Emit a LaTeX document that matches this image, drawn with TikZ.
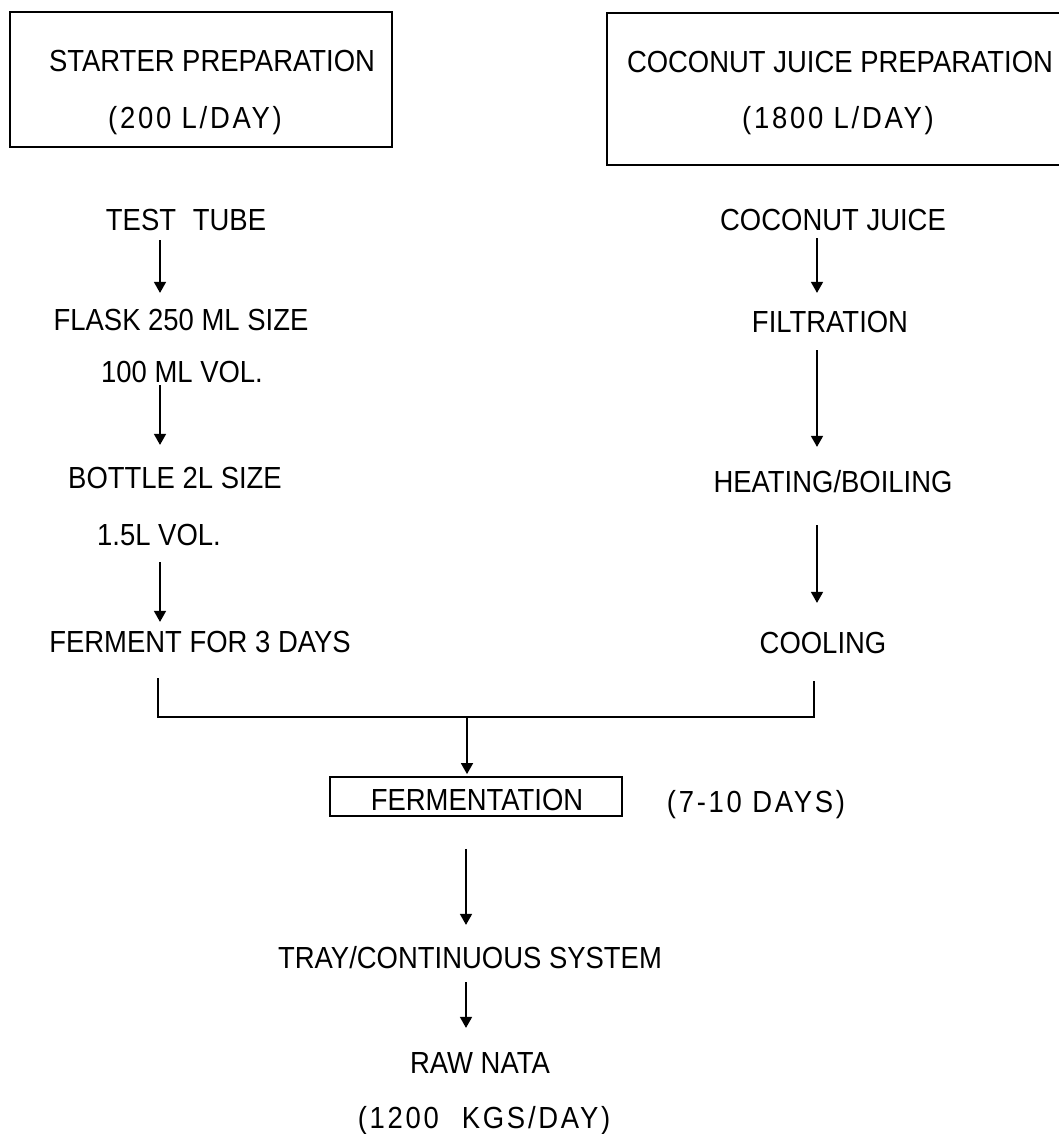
\documentclass[tikz,border=0pt]{standalone}
\usepackage{fontspec}
\setmainfont{Liberation Sans}[FakeStretch=0.9]
\usetikzlibrary{arrows.meta}
\begin{document}
\begin{tikzpicture}[x=1pt,y=-1pt,
  lbl/.style={inner sep=0pt, text height=21.8pt, text depth=0pt, font=\fontsize{30.5}{36}\selectfont},
  wide/.style={lbl, font=\fontsize{30.5}{36}\selectfont\addfontfeature{LetterSpace=9}},
  boxline/.style={line width=1.8pt},
  conn/.style={line width=1.6pt},
  arr/.style={line width=1.6pt, -{Triangle[width=12pt,length=11pt]}}]
\useasboundingbox (0,0) rectangle (1058,1134);
\fill[white] (0,0) rectangle (1058,1134);

% top boxes
\node[draw, boxline, minimum width=382pt, minimum height=135pt, inner sep=0pt] (lbox) at (201,79.5) {};
\node[lbl] (sp1) at (212,61) {STARTER PREPARATION};
\node[wide] (sp2) at (195,118) {(200 L/DAY)};

\draw[boxline] (1065,13) -- (607,13) -- (607,165) -- (1065,165);
\node[lbl] (cj1) at (840,62) {COCONUT JUICE PREPARATION};
\node[wide] (cj2) at (838,118) {(1800 L/DAY)};

% left column
\node[lbl] (tt)  at (186,220) {TEST\hspace{0.55em}TUBE};
\node[lbl] (fl1) at (181,320) {FLASK 250 ML SIZE};
\node[lbl] (fl2) at (182,372) {100 ML VOL.};
\node[lbl] (bo1) at (175,478) {BOTTLE 2L SIZE};
\node[lbl] (bo2) at (159,535) {1.5L VOL.};
\node[lbl] (fe)  at (200,642) {FERMENT FOR 3 DAYS};

% right column
\node[lbl] (cj) at (833,220) {COCONUT JUICE};
\node[lbl] (fi) at (830,322) {FILTRATION};
\node[lbl] (he) at (833,482) {HEATING/BOILING};
\node[lbl] (co) at (823,643) {COOLING};

% centre
\node[draw, boxline, minimum width=292pt, minimum height=39pt, inner sep=0pt] (fb) at (476,796.5) {};
\node[lbl] (fbt) at (477,800) {FERMENTATION};
\node[wide] (days) at (756,802) {(7-10 DAYS)};
\node[lbl] (tray) at (470,958) {TRAY/CONTINUOUS SYSTEM};
\node[lbl] (raw) at (480,1063) {RAW NATA};
\node[wide] (kgs) at (484,1118) {(1200\hspace{0.75em}KGS/DAY)};

\coordinate (lx) at (160,0);
\coordinate (rx) at (817,0);
\coordinate (cx) at (466,0);
\coordinate (jl) at (158,717);
\coordinate (jr) at (814,717);
\coordinate (mx) at (467,717);

% left arrows
\draw[arr, shorten <=9pt, shorten >=16pt] (tt.south -| lx) -- (fl1.north -| lx);
\draw[arr, shorten <=2pt, shorten >=22pt] (fl2.south -| lx) -- (bo1.north -| lx);
\draw[arr, shorten <=16pt, shorten >=9pt] (bo2.south -| lx) -- (fe.north -| lx);

% right arrows
\draw[arr, shorten <=7pt, shorten >=18pt] (cj.south -| rx) -- (fi.north -| rx);
\draw[arr, shorten <=17pt, shorten >=24pt] (fi.south -| rx) -- (he.north -| rx);
\draw[arr, shorten <=32pt, shorten >=29pt] (he.south -| rx) -- (co.north -| rx);

% join
\draw[conn, shorten <=25pt, shorten >=27pt] (fe.south -| jl) -- (jl) -- (jr) -- (co.south -| jr);
\draw[arr, shorten >=2pt] (mx) -- (fb.north -| mx);

% bottom arrows
\draw[arr, shorten <=32pt, shorten >=22pt] (fb.south -| cx) -- (tray.north -| cx);
\draw[arr, shorten <=13pt, shorten >=24pt] (tray.south -| cx) -- (raw.north -| cx);
\end{tikzpicture}
\end{document}
